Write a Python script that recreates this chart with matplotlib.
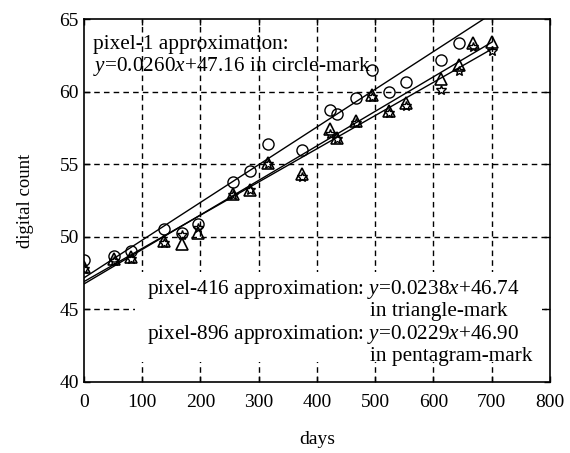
import numpy as np
import matplotlib
matplotlib.use("Agg")
import matplotlib.pyplot as plt
from matplotlib.patches import Rectangle

plt.rcParams['font.family'] = ['Liberation Serif', 'DejaVu Serif']
plt.rcParams['mathtext.fontset'] = 'custom'
plt.rcParams['mathtext.rm'] = 'Liberation Serif'
plt.rcParams['mathtext.it'] = 'Liberation Serif:italic'

# days of measurement
days = [0, 52, 81, 138, 168, 196, 256, 286, 316, 375, 422, 434, 467, 494, 524, 553, 613, 643, 668, 700]

# pixel-1 (circles), last two are above the plot top
pix1 = [48.4, 48.7, 49.0, 50.5, 50.25, 50.9, 53.8, 54.55, 56.4, 55.95, 58.75, 58.45, 59.55, 61.5, 60.0, 60.65, 62.2, 63.35, 65.6, 65.8]
# pixel-416 (triangles)
pix416 = [47.9, 48.5, 48.6, 49.7, 49.5, 50.25, 52.95, 53.2, 55.1, 54.3, 57.4, 56.8, 57.95, 59.75, 58.65, 59.2, 60.85, 61.85, 63.35, 63.4]
# pixel-896 (pentagrams)
pix896 = [47.8, 48.35, 48.5, 49.6, 50.1, 50.6, 52.85, 53.2, 55.0, 54.1, 57.1, 56.75, 57.85, 59.65, 58.5, 59.0, 60.1, 61.4, 63.1, 62.8]

# linear fits
fit1 = (0.0260, 47.16)
fit416 = (0.0238, 46.74)
fit896 = (0.0229, 46.90)

fig = plt.figure(figsize=(5.7, 4.53), dpi=100)
ax = fig.add_axes([0.147, 0.157, 0.818, 0.801])

ax.set_xlim(0, 800)
ax.set_ylim(40, 65)
ax.set_xticks(np.arange(0, 801, 100))
ax.set_yticks(np.arange(40, 66, 5))

# dashed grid
for gx in range(100, 800, 100):
    ax.axvline(gx, color='k', lw=1.0, ls=(0, (4, 3)), zorder=1)
for gy in range(45, 65, 5):
    ax.axhline(gy, color='k', lw=1.0, ls=(0, (4, 3)), zorder=1)

# white area behind lower annotation
ax.add_patch(Rectangle((88, 41.4), 698, 6.2, facecolor='white', edgecolor='none', zorder=2))

xx = np.linspace(0, 700, 200)
for a, b in (fit1, fit416, fit896):
    ax.plot(xx, a * xx + b, color='k', lw=1.0, zorder=3)

ax.plot(days, pix1, ls='none', marker='o', ms=8, mfc='none', mec='k', mew=1.0, zorder=4)
ax.plot(days, pix416, ls='none', marker='^', ms=8.5, mfc='none', mec='k', mew=1.2, zorder=4)
ax.plot(days, pix896, ls='none', marker='*', ms=7, mfc='none', mec='k', mew=1.0, zorder=4)

fs = 15.3
ax.text(15, 63.25, "pixel-1 approximation:", fontsize=fs, va='center', zorder=5)
ax.text(15, 61.75, "$\\it{y}$=0.0260$\\it{x}$+47.16 in circle-mark", fontsize=fs, va='center', zorder=5)

ax.text(108, 46.35, "pixel-416 approximation: $\\it{y}$=0.0238$\\it{x}$+46.74", fontsize=fs, va='center', zorder=5)
ax.text(491, 44.85, "in triangle-mark", fontsize=fs, va='center', zorder=5)
ax.text(108, 43.25, "pixel-896 approximation: $\\it{y}$=0.0229$\\it{x}$+46.90", fontsize=fs, va='center', zorder=5)
ax.text(491, 41.75, "in pentagram-mark", fontsize=fs, va='center', zorder=5)

ax.tick_params(direction='in', top=True, right=True, labelsize=14, length=4, width=1)
ax.tick_params(axis='x', pad=9)
ax.set_xlabel("days", fontsize=14, labelpad=14)
ax.set_ylabel("digital count", fontsize=13.5, labelpad=18)
for s in ax.spines.values():
    s.set_linewidth(1.2)
    s.set_zorder(6)

fig.savefig("out.png", dpi=100)
